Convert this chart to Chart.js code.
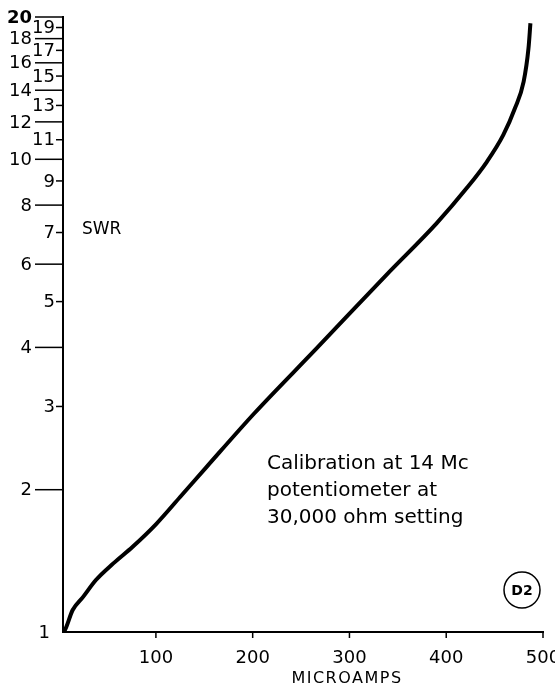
<!DOCTYPE html>
<html>
<head>
<meta charset="utf-8">
<script src="https://cdn.jsdelivr.net/npm/chart.js@4"></script>
<style>
  html, body { margin: 0; padding: 0; background: #fff; }
  #wrap { width: 555px; height: 692px; position: relative; }
</style>
</head>
<body>
<div id="wrap"><canvas id="swrChart" width="555" height="692"></canvas></div>
<script>
// du lieu doc tu hinh: dong dien (microamps) va SWR
const microamps = [4, 6, 14, 25, 38, 56, 76, 100, 125, 152, 202, 266, 338, 390, 421, 442, 459, 471, 480, 485, 487];
const swr = [1, 1.01, 1.113, 1.188, 1.288, 1.397, 1.515, 1.69, 1.93, 2.23, 2.906, 3.98, 5.69, 7.32, 8.68, 9.88, 11.26, 12.82, 14.6, 17.17, 19.4];

// nhan truc
const swrTicks = [1, 2, 3, 4, 5, 6, 7, 8, 9, 10, 11, 12, 13, 14, 15, 16, 17, 18, 19, 20];
const ampTicks = [100, 200, 300, 400, 500];

const points = microamps.map((x, i) => ({ x: x, y: swr[i] }));

// ve nhan, vach chia va ghi chu bang tay
const annotations = {
  id: 'annotations',
  afterDraw(chart) {
    const c = chart.ctx;
    const xs = chart.scales.x;
    const ys = chart.scales.y;
    const left = chart.chartArea.left;
    const bottom = chart.chartArea.bottom;
    c.save();
    c.fillStyle = '#000';
    c.strokeStyle = '#000';
    c.lineWidth = 1.5;
    c.textBaseline = 'middle';

    swrTicks.forEach(v => {
      const py = ys.getPixelForValue(v);
      const even = v % 2 === 0;
      if (v !== 1) {
        c.beginPath();
        c.moveTo(even ? left - 28 : left - 7, py);
        c.lineTo(left, py);
        c.stroke();
      }
      c.textAlign = 'right';
      let lx = even ? left - 31 : left - 8;
      if (v === 1) lx = left - 13;
      c.font = (v === 20 ? 'bold ' : '') + '18px "DejaVu Sans"';
      c.fillText(String(v), lx, py + 1);
    });

    c.font = '18px "DejaVu Sans"';
    c.textAlign = 'center';
    ampTicks.forEach(v => {
      const px = xs.getPixelForValue(v);
      c.beginPath();
      c.moveTo(px, bottom);
      c.lineTo(px, bottom + 6);
      c.stroke();
      c.fillText(String(v), px, bottom + 26);
    });

    c.font = '16px "DejaVu Sans"';
    c.letterSpacing = '1.5px';
    c.fillText('MICROAMPS', 347, 679);
    c.letterSpacing = '0px';

    c.textAlign = 'left';
    c.font = '17px "DejaVu Sans"';
    c.fillText('SWR', 82, 230);

    c.font = '20px "DejaVu Sans"';
    c.fillText('Calibration at 14 Mc', 267, 464);
    c.fillText('potentiometer at', 267, 491);
    c.fillText('30,000 ohm setting', 267, 518);

    c.lineWidth = 1.5;
    c.beginPath();
    c.arc(522, 590, 18, 0, Math.PI * 2);
    c.stroke();
    c.textAlign = 'center';
    c.font = 'bold 14px "DejaVu Sans"';
    c.fillText('D2', 522, 591);
    c.restore();
  }
};

const ctx = document.getElementById('swrChart').getContext('2d');

const swrChart = new Chart(ctx, {
  type: 'line',
  data: {
    datasets: [{
      data: points,
      borderColor: '#000',
      borderWidth: 4,
      pointRadius: 0,
      fill: false,
      cubicInterpolationMode: 'monotone'
    }]
  },
  options: {
    responsive: false,
    animation: false,
    layout: { padding: { left: 55, right: 12, top: 17, bottom: 52 } },
    plugins: { legend: { display: false }, tooltip: { enabled: false } },
    scales: {
      x: {
        type: 'linear',
        min: 4,
        max: 500,
        grid: { display: false },
        border: { display: true, color: '#000', width: 2 },
        ticks: { display: false }
      },
      y: {
        type: 'logarithmic',
        min: 1,
        max: 20,
        grid: { display: false },
        border: { display: true, color: '#000', width: 2 },
        ticks: { display: false }
      }
    }
  },
  plugins: [annotations]
});
</script>
</body>
</html>
